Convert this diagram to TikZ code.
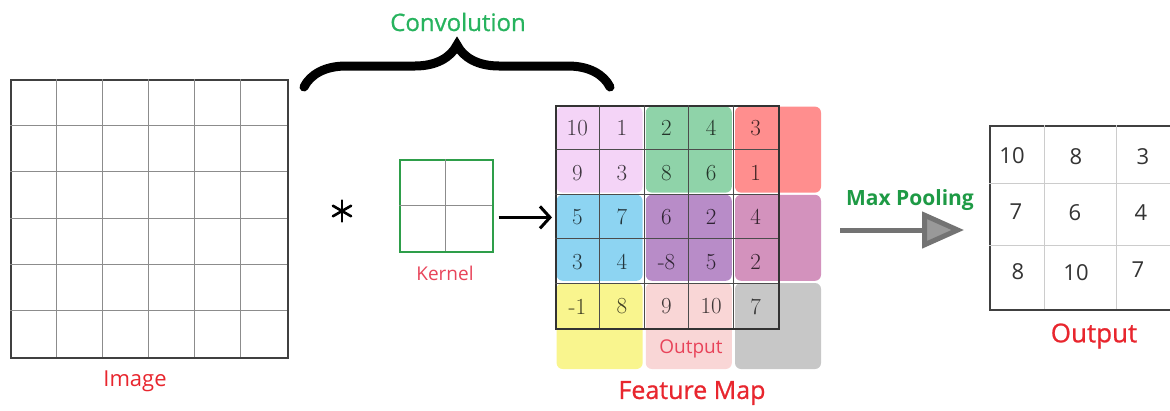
\documentclass[tikz,border=0pt]{standalone}
\usepackage{fontspec}
\setsansfont{Open Sans}
\newfontfamily\labfont{Open Sans}[FakeBold=0.8]
\usetikzlibrary{arrows.meta,decorations.pathreplacing}
\definecolor{blkA}{HTML}{F4D4F7}
\definecolor{blkB}{HTML}{8FD3A9}
\definecolor{blkC}{HTML}{FF8E8E}
\definecolor{blkD}{HTML}{8DD4F2}
\definecolor{blkE}{HTML}{B88CC8}
\definecolor{blkF}{HTML}{D392BD}
\definecolor{blkG}{HTML}{F9F58E}
\definecolor{blkH}{HTML}{F9D6D6}
\definecolor{blkI}{HTML}{C7C7C7}
\definecolor{labred}{HTML}{E8262E}
\definecolor{labpink}{HTML}{E8445A}
\definecolor{convgreen}{HTML}{27B35E}
\definecolor{poolgreen}{HTML}{1E9A45}
\definecolor{kergreen}{HTML}{2E9E4A}
\begin{document}
\begin{tikzpicture}[x=1pt,y=-1pt,
  lbl/.style={font=\labfont\fontsize{22}{24}\selectfont, text=labred, inner sep=0},
  bigbox/.style={draw=black!75, line width=1.8pt, inner sep=0, anchor=north west},
  thin grid/.style={draw=black!45, line width=0.9pt},
  block/.style={rounded corners=6pt, minimum width=86pt, minimum height=86pt, inner sep=0},
  fmnum/.style={font=\fontsize{23}{24}\selectfont, inner sep=0},
  outnum/.style={font=\sffamily\fontsize{22}{24}\selectfont, text=black!80, inner sep=0}]
\useasboundingbox (0,0) rectangle (1170,410);
\clip (0,0) rectangle (1170,410);

% ---------- Image ----------
\node[bigbox, minimum width=277pt, minimum height=278pt] (img) at (10,79) {};
\foreach \i in {1,...,5} {
  \draw[thin grid] (10+\i*46.17,79) -- (10+\i*46.17,357);
  \draw[thin grid] (10,79+\i*46.33) -- (287,79+\i*46.33);
}
\node[lbl, font=\sffamily\fontsize{22}{24}\selectfont] (imglbl) at (135,381) {Image};

% ---------- Convolution brace ----------
\draw[line width=9pt, line cap=round, decorate, decoration={brace, amplitude=42pt, aspect=0.5}]
  (304,87) -- (610,87);
\node[font=\labfont\fontsize{24}{26}\selectfont, text=convgreen, inner sep=0] (conv) at (458,22) {Convolution};

% ---------- asterisk ----------
\coordinate (ast) at (342,211);
\foreach \a in {90,30,-30} {
  \draw[line width=2.6pt, line cap=round] (ast) ++(\a:10.5) -- ++(\a+180:21);
}

% ---------- Kernel ----------
\node[draw=kergreen, line width=1.5pt, minimum width=93pt, minimum height=92pt, inner sep=0, anchor=north west] (ker) at (399,159) {};
\draw[thin grid] (445.5,159) -- (445.5,251);
\draw[thin grid] (399,205.5) -- (492,205.5);
\node[lbl, text=labpink, font=\sffamily\fontsize{19}{20}\selectfont] (kerlbl) at (445,273) {Kernel};

% ---------- Feature map blocks ----------
\foreach \c/\r/\col/\nm in {0/0/blkA/bA, 1/0/blkB/bB, 2/0/blkC/bC,
                           0/1/blkD/bD, 1/1/blkE/bE, 2/1/blkF/bF,
                           0/2/blkG/bG, 1/2/blkH/bH, 2/2/blkI/bI} {
  \node[block, fill=\col] (\nm) at (599.6+\c*89.2, 149.6+\r*88.2) {};
}
\node[bigbox, minimum width=223pt, minimum height=223pt, draw=black!80] (fm) at (555,105) {};
\foreach \i in {1,...,4} {
  \draw[draw=black!70, line width=1pt] (555+\i*44.6,105) -- (555+\i*44.6,328);
  \draw[draw=black!70, line width=1pt] (555,105+\i*44.6) -- (778,105+\i*44.6);
}
% numbers
\foreach \r/\row in {0/{10,1,2,4,3}, 1/{9,3,8,6,1}, 2/{5,7,6,2,4}, 3/{3,4,-8,5,2}, 4/{-1,8,9,10,7}} {
  \foreach \v [count=\cc from 0] in \row {
    \pgfmathtruncatemacro{\bc}{int(\cc/2)}
    \pgfmathtruncatemacro{\br}{int(\r/2)}
    \pgfmathsetmacro{\idx}{\br*3+\bc}
    \ifcase\idx\relax \def\tc{blkA}\or \def\tc{blkB}\or \def\tc{blkC}\or
      \def\tc{blkD}\or \def\tc{blkE}\or \def\tc{blkF}\or
      \def\tc{blkG}\or \def\tc{blkH}\or \def\tc{blkI}\fi
    \node[fmnum, text=\tc!25!black] (n\r\cc) at (555+\cc*44.6+22.3, 105+\r*44.6+23) {\v};
  }
}
\node[lbl, text=labpink, font=\sffamily\fontsize{19}{20}\selectfont] (fmout) at (691,349) {Output};
\node[lbl, font=\labfont\fontsize{25}{28}\selectfont] (fmlbl) at (692,393) {Feature Map};

% ---------- kernel arrow ----------
\draw[line width=3pt, -{Straight Barb[length=10pt,width=22pt]}, shorten <=5pt, shorten >=3pt] (ker.east |- fm.west) -- (fm.west);

% ---------- Output ----------
\node[bigbox, minimum width=200pt, minimum height=184pt] (out) at (989,125) {};
\draw[draw=black!20, line width=1pt] (1044,125) -- (1044,309);
\draw[draw=black!20, line width=1pt] (1116,125) -- (1116,309);
\draw[draw=black!20, line width=1pt] (989,183) -- (1170,183);
\draw[draw=black!20, line width=1pt] (989,245) -- (1170,245);
\node[outnum] (o11) at (1012,156) {10};
\node[outnum] (o12) at (1076,157) {8};
\node[outnum] (o13) at (1143,157) {3};
\node[outnum] (o21) at (1016,212) {7};
\node[outnum] (o22) at (1075,213) {6};
\node[outnum] (o23) at (1141,213) {4};
\node[outnum] (o31) at (1018,272) {8};
\node[outnum] (o32) at (1076,273) {10};
\node[outnum] (o33) at (1138,270) {7};
\node[lbl, font=\labfont\fontsize{26}{28}\selectfont] (outlbl) at (1094,336) {Output};

% ---------- Max pooling ----------
\coordinate (mpstart) at (840,230);
\coordinate (mpend) at (964,230);
\draw[line width=5pt, draw=black!55, -{Triangle[length=42pt,width=36pt, fill=black!40]}] (mpstart) -- (mpend);
\node[font=\sffamily\bfseries\fontsize{21}{24}\selectfont, text=poolgreen, inner sep=0] (mp) at (910,200) {Max Pooling};
\end{tikzpicture}
\end{document}
